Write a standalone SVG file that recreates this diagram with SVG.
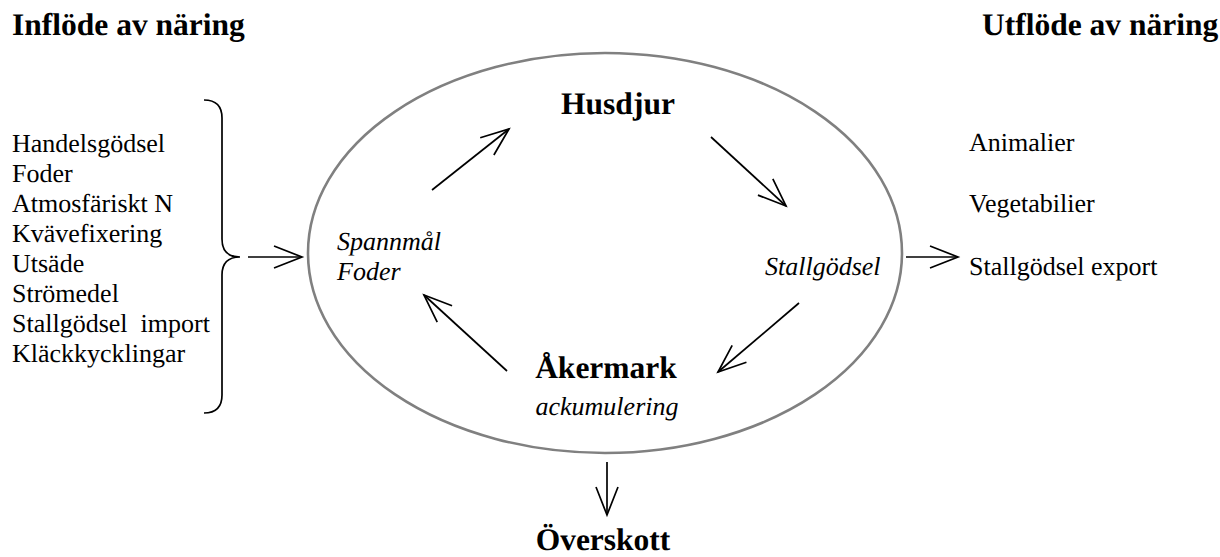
<svg xmlns="http://www.w3.org/2000/svg" width="1220" height="557" viewBox="0 0 1220 557" font-family="Liberation Serif, Times New Roman, serif" text-rendering="geometricPrecision">
  <style>
    .hd { font-weight: bold; font-size: 31.5px; fill: #000; }
    .tx { font-size: 26px; fill: #000; }
    .it { font-style: italic; font-size: 26px; fill: #000; }
    .ln { stroke: #000; stroke-width: 1.7; fill: none; }
  </style>
  <defs>
    <marker id="vhead" markerUnits="userSpaceOnUse" markerWidth="40" markerHeight="30" refX="0" refY="0" viewBox="-30 -15 32 30" orient="auto" overflow="visible">
      <path d="M-28,-11 L0,0 L-28,11" fill="none" stroke="#000" stroke-width="1.7"/>
    </marker>
  </defs>
  <rect width="1220" height="557" fill="#fff"/>

  <!-- headings -->
  <g id="inflow-heading"><text class="hd" x="12" y="35">Inflöde av näring</text></g>
  <g id="outflow-heading"><text class="hd" x="982" y="35">Utflöde av näring</text></g>

  <!-- inputs list with brace -->
  <g id="inputs">
    <text class="tx" x="12" y="152">Handelsgödsel</text>
    <text class="tx" x="12" y="182">Foder</text>
    <text class="tx" x="12" y="212">Atmosfäriskt N</text>
    <text class="tx" x="12" y="242">Kvävefixering</text>
    <text class="tx" x="12" y="272">Utsäde</text>
    <text class="tx" x="12" y="302">Strömedel</text>
    <text class="tx" x="12" y="332" xml:space="preserve">Stallgödsel  import</text>
    <text class="tx" x="12" y="362">Kläckkycklingar</text>
    <path class="ln" d="M204,100 Q222,100 222,118 L222,239 Q222,257 240,257 Q222,257 222,275 L222,395 Q222,413 204,413"/>
  </g>

  <!-- farm cycle -->
  <g id="farm">
    <ellipse cx="605" cy="253" rx="297" ry="200" fill="none" stroke="#808080" stroke-width="2.6"/>
  </g>
  <g id="husdjur"><text class="hd" x="618" y="114" text-anchor="middle">Husdjur</text></g>
  <g id="spannmal-foder">
    <text class="it" x="337" y="250">Spannmål</text>
    <text class="it" x="337" y="280">Foder</text>
  </g>
  <g id="stallgodsel"><text class="it" x="765" y="275">Stallgödsel</text></g>
  <g id="akermark">
    <text class="hd" x="606" y="378" text-anchor="middle">Åkermark</text>
    <text class="it" x="607" y="415" text-anchor="middle">ackumulering</text>
  </g>
  <g id="overskott"><text class="hd" x="603" y="550" text-anchor="middle">Överskott</text></g>

  <!-- outputs -->
  <g id="outputs">
    <text class="tx" x="969" y="151">Animalier</text>
    <text class="tx" x="969" y="212">Vegetabilier</text>
    <text class="tx" x="969" y="275">Stallgödsel export</text>
  </g>

  <!-- connectors -->
  <g id="connectors">
    <line class="ln" x1="248" y1="257" x2="302" y2="257" marker-end="url(#vhead)"/>
    <line class="ln" x1="432" y1="190" x2="509" y2="129" marker-end="url(#vhead)"/>
    <line class="ln" x1="711" y1="137" x2="786" y2="206" marker-end="url(#vhead)"/>
    <line class="ln" x1="799" y1="303" x2="718" y2="372" marker-end="url(#vhead)"/>
    <line class="ln" x1="507" y1="371" x2="424" y2="295" marker-end="url(#vhead)"/>
    <line class="ln" x1="906" y1="257" x2="958" y2="257" marker-end="url(#vhead)"/>
    <line class="ln" x1="607" y1="462" x2="607" y2="515" marker-end="url(#vhead)"/>
  </g>
</svg>
